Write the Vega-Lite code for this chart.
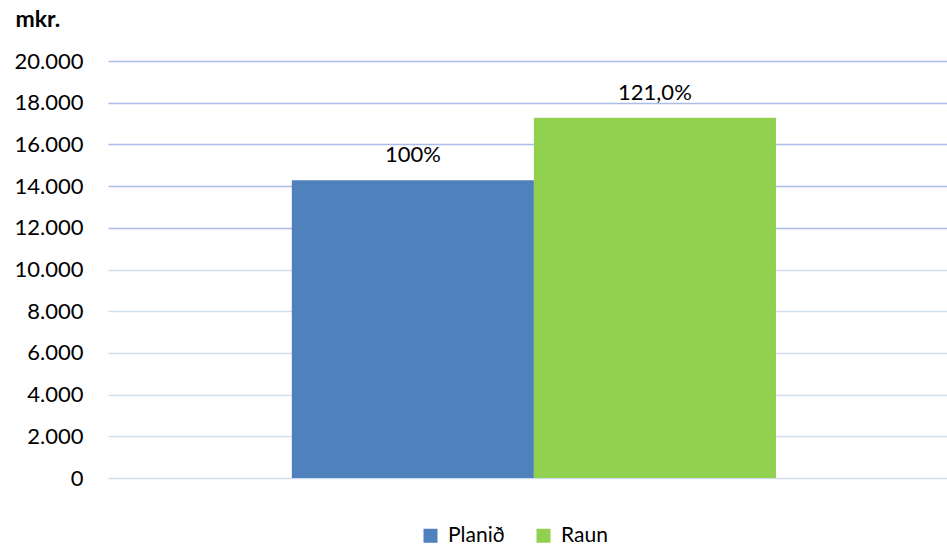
{
  "$schema": "https://vega.github.io/schema/vega-lite/v6.json",
  "width": 839,
  "height": 417,
  "autosize": {"type": "none"},
  "padding": {"left": 108, "top": 61, "right": 0, "bottom": 73},
  "background": "white",
  "data": {"values": [
    {"series": "Planið", "value": 14280, "label": "100%"},
    {"series": "Raun", "value": 17280, "label": "121,0%"}
  ]},
  "encoding": {
    "x": {"field": "series", "type": "nominal", "sort": ["Planið", "Raun"], "scale": {"paddingInner": 0, "paddingOuter": 0.733, "align": 0.518}, "axis": null},
    "y": {"field": "value", "type": "quantitative", "scale": {"domain": [0, 20000]},
      "axis": {
        "values": [0, 2000, 4000, 6000, 8000, 10000, 12000, 14000, 16000, 18000, 20000],
        "ticks": false, "domain": false, "grid": true,
        "gridColor": {"condition": {"test": "datum.value >= 12000", "value": "#a9bde6"}, "value": "#d3ddf2"},
        "gridWidth": 1.5,
        "labelFont": "Lato", "labelFontSize": 22, "labelColor": "#000", "labelPadding": 25,
        "labelExpr": "replace(format(datum.value, ','), ',', '.')",
        "title": "mkr.", "titleAngle": 0, "titleAlign": "left", "titleBaseline": "middle",
        "titleX": -93, "titleY": -42, "titleFont": "Lato", "titleFontSize": 23, "titleFontWeight": "bold", "titleColor": "#000"
      }
    }
  },
  "layer": [
    {"mark": {"type": "bar"},
     "encoding": {"color": {"field": "series", "type": "nominal",
       "scale": {"domain": ["Planið", "Raun"], "range": ["#4f81bd", "#92d050"]},
       "legend": {"orient": "none", "legendX": 312, "legendY": 464, "direction": "horizontal", "title": null,
         "symbolType": "square", "symbolSize": 196, "symbolStrokeWidth": 0, "labelFont": "Lato", "labelFontSize": 21,
         "labelColor": "#000", "labelOffset": 7, "columnPadding": 28}}}},
    {"mark": {"type": "text", "baseline": "middle", "dy": -25, "font": "Lato", "fontSize": 22, "color": "#000"},
     "encoding": {"text": {"field": "label"}}}
  ],
  "config": {"view": {"stroke": null}}
}
